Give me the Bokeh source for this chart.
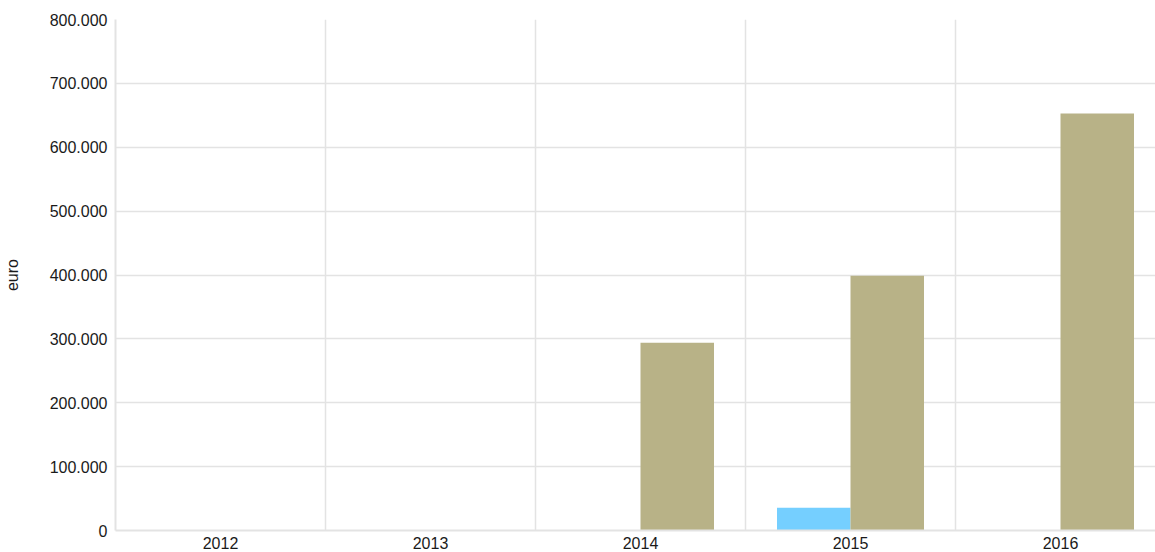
from bokeh.plotting import figure
from bokeh.models import FixedTicker, CustomJSTickFormatter, Grid, ColumnDataSource
from bokeh.transform import dodge
from bokeh.embed import file_html
from bokeh.resources import INLINE

years = ["2012", "2013", "2014", "2015", "2016"]
series_blue = [0, 0, 0, 35500, 0]
series_brown = [0, 0, 294000, 399000, 653000]
y_ticks = [0, 100000, 200000, 300000, 400000, 500000, 600000, 700000, 800000]

xpos = list(range(len(years)))
src = ColumnDataSource(dict(x=xpos, blue=series_blue, brown=series_brown))

FONT = "Liberation Sans"
GRID = "#e3e3e3"

p = figure(width=1155, height=552, output_backend="svg", toolbar_location=None,
           x_range=(-0.5, -0.5 + 1040 / 210), y_range=(0, 800000),
           min_border_left=115, min_border_right=0, min_border_top=19, min_border_bottom=22)
p.outline_line_color = None

w = 0.35
p.vbar(x=dodge("x", -w / 2), top="blue", width=w, source=src, color="#75CFFF", line_color=None)
p.vbar(x=dodge("x", w / 2), top="brown", width=w, source=src, color="#B8B287", line_color=None)

p.xaxis.ticker = FixedTicker(ticks=xpos)
p.xaxis.major_label_overrides = {i: y for i, y in enumerate(years)}
p.yaxis.ticker = FixedTicker(ticks=y_ticks)
p.yaxis.formatter = CustomJSTickFormatter(code="return tick.toFixed(0).replace(/\\B(?=(\\d{3})+(?!\\d))/g, '.');")
p.yaxis.axis_label = "euro"

for ax in (p.xaxis[0], p.yaxis[0]):
    ax.major_tick_line_color = None
    ax.minor_tick_line_color = None
    ax.axis_line_color = GRID
    ax.axis_line_width = 2
    ax.major_label_text_font = FONT
    ax.major_label_text_font_size = "16px"
    ax.major_label_text_color = "#1a1a1a"
    ax.axis_label_text_font = FONT
    ax.axis_label_text_font_size = "16px"
    ax.axis_label_text_font_style = "normal"
    ax.axis_label_text_color = "#1a1a1a"
p.xaxis.major_label_standoff = 0
p.yaxis.major_label_standoff = 2
p.yaxis.axis_label_standoff = 26

p.xgrid.grid_line_color = None
p.ygrid.grid_line_color = GRID
p.ygrid.grid_line_width = 1.5
vgrid = Grid(dimension=0, ticker=FixedTicker(ticks=[0.5, 1.5, 2.5, 3.5, 4.5]),
             grid_line_color=GRID, grid_line_width=1.5)
p.add_layout(vgrid)

open("out.html", "w").write(file_html(p, INLINE))
